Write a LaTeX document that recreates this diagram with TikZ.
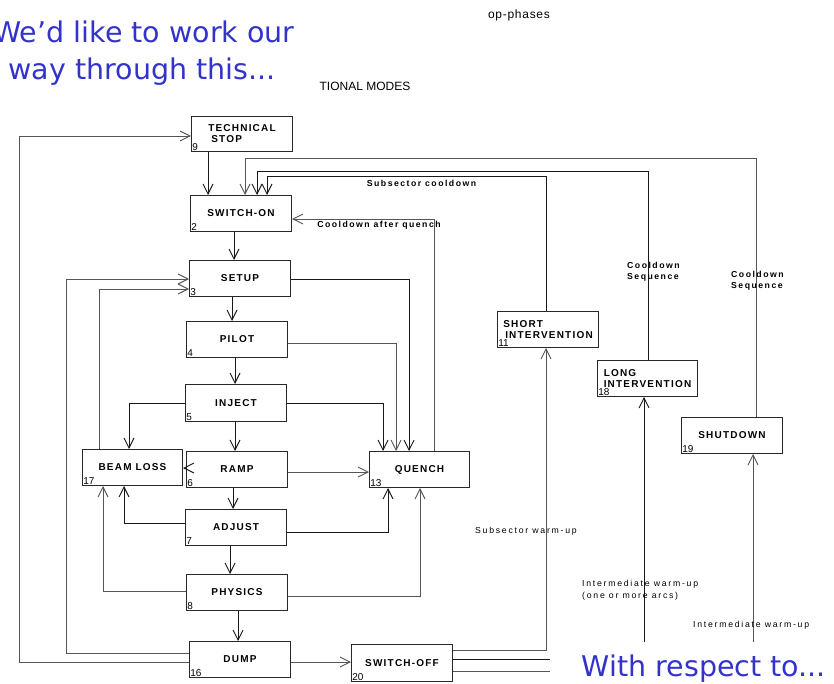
\documentclass[tikz,border=0pt]{standalone}
\usepackage{fontspec}
\setmainfont{Liberation Sans}
\newfontfamily\titlefont{DejaVu Sans}
\usetikzlibrary{arrows.meta}
\definecolor{ttlblue}{RGB}{51,51,204}
\definecolor{ln}{RGB}{25,25,25}
\definecolor{lg}{RGB}{85,85,85}
\definecolor{bx}{RGB}{40,40,40}
\begin{document}
\begin{tikzpicture}[x=1pt,y=-1pt,
  box/.style={draw=bx, line width=1pt, rectangle, anchor=north west, inner sep=0pt,
    minimum width=101pt, minimum height=36pt,
    font=\fontsize{10}{11}\selectfont\bfseries\addfontfeature{LetterSpace=12}},
  num/.style={anchor=south west, inner sep=1.2pt, font=\fontsize{10}{10}\selectfont},
  conn/.style={draw=ln, line width=0.9pt, -{Straight Barb[length=10pt,width=10pt,line width=0.9pt]}},
  elab/.style={inner sep=0pt, align=left, font=\fontsize{8.7}{11.5}\selectfont\bfseries\addfontfeature{LetterSpace=17}},
  wlab/.style={inner sep=0pt, align=left, font=\fontsize{8.7}{12}\selectfont\addfontfeature{LetterSpace=20}},
  title/.style={inner sep=0pt, text=ttlblue, font=\titlefont\fontsize{28.5}{34}\selectfont},
  head/.style={inner sep=0pt, font=\fontsize{12}{12}\selectfont}
]
\useasboundingbox (0,0) rectangle (834,684);

% boxes
\node[box, minimum height=35pt, align=left, label={[num]south west:9}] (ts) at (191,116) {TECHNICAL\\\hspace{3pt}STOP};
\node[box, label={[num]south west:2}] (son) at (190,195) {SWITCH-ON};
\node[box, label={[num]south west:3}] (setup) at (189,260) {SETUP};
\node[box, label={[num]south west:4}] (pilot) at (186,321) {PILOT};
\node[box, minimum height=37pt, label={[num]south west:5}] (inject) at (185,384) {INJECT};
\node[box, minimum width=100pt, label={[num]south west:17}] (bloss) at (82,449) {BEAM LOSS};
\node[box, label={[num]south west:6}] (ramp) at (186,451) {RAMP};
\node[box, minimum width=100pt, label={[num]south west:13}] (quench) at (369,451) {QUENCH};
\node[box, label={[num]south west:7}] (adjust) at (185,509) {ADJUST};
\node[box, label={[num]south west:8}] (physics) at (186,574) {PHYSICS};
\node[box, label={[num]south west:16}] (dump) at (189,641) {DUMP};
\node[box, minimum height=37pt, label={[num]south west:20}] (soff) at (351,644) {SWITCH-OFF};
\node[box, align=left, label={[num]south west:11}] (short) at (497,311) {SHORT\\\hspace{2pt}INTERVENTION};
\node[box, minimum width=100pt, align=left, label={[num]south west:18}] (long) at (597,360) {LONG\\INTERVENTION};
\node[box, label={[num]south west:19}] (shut) at (681,417) {SHUTDOWN};

% connectors
\draw[conn,lg] (dump.west |- 0,662) -- (19,662) -- (19,136) -- (ts.west |- 0,136);
\draw[conn,lg] (dump.west |- 0,653) -- (66,653) -- (66,279) -- (setup.west |- 0,279);
\draw[conn,lg] (99,0 |- bloss.north) -- (99,289) -- (setup.west |- 0,289);
\draw[conn] (208,0 |- ts.south) -- (208,0 |- son.north);
\draw[conn,lg] (756,0 |- shut.north) -- (756,158) -- (245,158) -- (245,0 |- son.north);
\draw[conn] (648,0 |- long.north) -- (648,171) -- (257,171) -- (257,0 |- son.north);
\draw[conn] (546,0 |- short.north) -- (546,176) -- (267,176) -- (267,0 |- son.north);
\draw[conn,lg] (434,0 |- quench.north) -- (434,219) -- (son.east |- 0,219);
\draw[conn] (234,0 |- son.south) -- (234,0 |- setup.north);
\draw[conn] (232,0 |- setup.south) -- (232,0 |- pilot.north);
\draw[conn] (235,0 |- pilot.south) -- (235,0 |- inject.north);
\draw[conn] (235,0 |- inject.south) -- (235,0 |- ramp.north);
\draw[conn] (233,0 |- ramp.south) -- (233,0 |- adjust.north);
\draw[conn] (230,0 |- adjust.south) -- (230,0 |- physics.north);
\draw[conn] (238,0 |- physics.south) -- (238,0 |- dump.north);
\draw[conn,lg] (dump.east |- 0,662) -- (soff.west |- 0,662);
\draw[conn] (setup.east |- 0,279) -- (409,279) -- (409,0 |- quench.north);
\draw[conn,lg] (pilot.east |- 0,343) -- (396,343) -- (396,0 |- quench.north);
\draw[conn] (inject.east |- 0,403) -- (383,403) -- (383,0 |- quench.north);
\draw[conn,lg] (ramp.east |- 0,472) -- (quench.west |- 0,472);
\draw[conn] (ramp.west |- 0,468) -- (bloss.east |- 0,468);
\draw[conn] (inject.west |- 0,403) -- (129,403) -- (129,0 |- bloss.north);
\draw[conn] (adjust.west |- 0,523) -- (124,523) -- (124,0 |- bloss.south);
\draw[conn,lg] (physics.west |- 0,591) -- (103,591) -- (103,0 |- bloss.south);
\draw[conn] (adjust.east |- 0,532) -- (388,532) -- (388,0 |- quench.south);
\draw[conn,lg] (physics.east |- 0,596) -- (420,596) -- (420,0 |- quench.south);
\draw[conn,lg] (soff.east |- 0,650) -- (546,650) -- (546,0 |- short.south);
\draw[conn] (soff.east |- 0,659) -- (644,659) -- (644,0 |- long.south);
\draw[conn,lg] (soff.east |- 0,671) -- (753,671) -- (753,0 |- shut.south);

% connector labels
\node[elab] (l1) at (421.5,183) {Subsector cooldown};
\node[elab] (l2) at (379,225) {Cooldown after quench};
\node[elab, anchor=west] (l3) at (627,272) {Cooldown\\Sequence};
\node[elab, anchor=west] (l4) at (731,281) {Cooldown\\Sequence};
\node[wlab, anchor=west] (l5) at (475,531) {Subsector warm-up};
\node[wlab, anchor=west] (l6) at (582,590.5) {Intermediate warm-up\\(one or more arcs)};
\node[wlab, anchor=west] (l7) at (693,625) {Intermediate warm-up};

% headings
\node[head, anchor=base, font=\fontsize{12}{12}\selectfont\addfontfeature{LetterSpace=6}] (h1) at (519,19) {op-phases};
\node[head, anchor=base] (h2) at (365,91) {TIONAL MODES};

% overlay texts
\node[title, anchor=base] (t1) at (144,43) {We’d like to work our};
\node[title, anchor=base] (t2) at (142,80) {way through this...};
\fill[white] (550,642) rectangle (834,684);
\node[title, anchor=base east] (t3) at (826,676) {With respect to...};
\end{tikzpicture}
\end{document}
